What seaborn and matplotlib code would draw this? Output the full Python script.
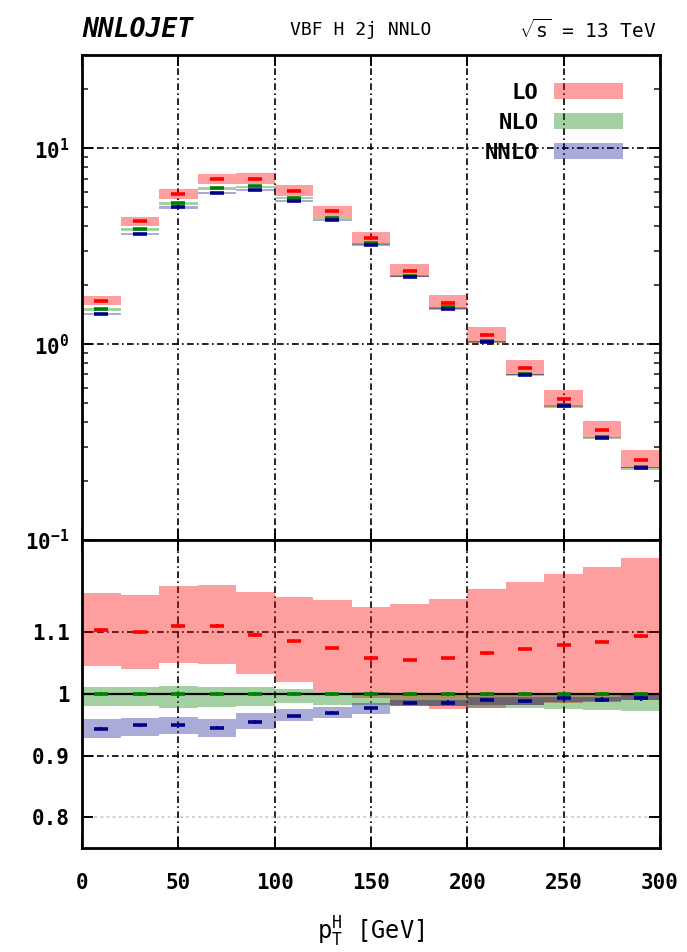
import numpy as np
import matplotlib
matplotlib.use("Agg")
import matplotlib.pyplot as plt
from matplotlib.patches import Patch
from matplotlib.ticker import LogLocator, NullFormatter, FixedLocator
import seaborn as sns

# ---- binning: p_T^H in 20 GeV bins ----
bin_edges = [0, 20, 40, 60, 80, 100, 120, 140, 160, 180, 200, 220, 240, 260, 280, 300]
bin_centers = [10, 30, 50, 70, 90, 110, 130, 150, 170, 190, 210, 230, 250, 270, 290]

# ---- NLO differential cross section (central scale) ----
nlo_central = [1.51, 3.86, 5.26, 6.27, 6.39, 5.58, 4.43, 3.28, 2.24, 1.54,
               1.04, 0.705, 0.487, 0.335, 0.235]

# ---- central predictions normalised to NLO ----
lo_ratio = [1.104, 1.100, 1.111, 1.111, 1.096, 1.086, 1.0745, 1.058, 1.055, 1.058,
            1.066, 1.073, 1.079, 1.085, 1.0935]
nnlo_ratio = [0.944, 0.949, 0.949, 0.9455, 0.955, 0.9646, 0.970, 0.978, 0.986, 0.986,
              0.991, 0.988, 0.993, 0.991, 0.993]

# ---- scale-variation envelopes, normalised to NLO ----
lo_band_lo = [1.046, 1.040, 1.050, 1.048, 1.032, 1.019, 1.005, 0.993, 0.982, 0.976,
              0.978, 0.982, 0.986, 0.988, 0.990]
lo_band_hi = [1.164, 1.161, 1.175, 1.177, 1.165, 1.158, 1.152, 1.141, 1.146, 1.154,
              1.170, 1.182, 1.195, 1.207, 1.221]
nlo_band_lo = [0.981, 0.980, 0.978, 0.979, 0.981, 0.985, 0.983, 0.983, 0.981, 0.981,
               0.978, 0.978, 0.975, 0.974, 0.972]
nlo_band_hi = [1.011, 1.012, 1.0135, 1.012, 1.011, 1.008, 1.0054, 1.003, 1.002, 1.002,
               1.002, 1.002, 1.002, 1.002, 1.002]
nnlo_band_lo = [0.929, 0.932, 0.9345, 0.930, 0.943, 0.956, 0.961, 0.968, 0.980, 0.980,
                0.983, 0.983, 0.987, 0.987, 0.990]
nnlo_band_hi = [0.959, 0.9615, 0.963, 0.959, 0.9685, 0.976, 0.979, 0.985, 0.991, 0.991,
                0.995, 0.995, 0.995, 0.996, 0.999]

# ---- relative statistical (MC) uncertainties ----
lo_stat = [0.003, 0.002, 0.004, 0.003, 0.003, 0.002, 0.002, 0.004, 0.002, 0.002,
           0.002, 0.002, 0.003, 0.002, 0.003]
nlo_stat = [0.003, 0.003, 0.004, 0.003, 0.003, 0.003, 0.003, 0.003, 0.003, 0.003,
            0.003, 0.003, 0.004, 0.003, 0.003]
nnlo_stat = [0.002, 0.002, 0.003, 0.003, 0.003, 0.002, 0.002, 0.003, 0.003, 0.004,
             0.003, 0.003, 0.004, 0.004, 0.004]

orders = ["LO", "NLO", "NNLO"]
band_colors = {"LO": "#ff0000", "NLO": "#008000", "NNLO": "#00008b"}
mark_colors = {"LO": "#ff0000", "NLO": "#008000", "NNLO": "#00008b"}
band_alpha = {"LO": 0.38, "NLO": 0.36, "NNLO": 0.33}

sns.set_theme(style="white")
plt.rcParams["font.family"] = ["DejaVu Sans Mono", "DejaVu Sans"]
plt.rcParams["mathtext.fontset"] = "custom"
plt.rcParams["mathtext.rm"] = "DejaVu Sans Mono"
plt.rcParams["mathtext.bf"] = "DejaVu Sans Mono:bold"
plt.rcParams["text.color"] = "black"
plt.rcParams["axes.labelcolor"] = "black"

x = np.array(bin_centers, dtype=float)
nlo = np.array(nlo_central)
ratio = {"LO": np.array(lo_ratio), "NLO": np.ones_like(nlo), "NNLO": np.array(nnlo_ratio)}
band = {"LO": (np.array(lo_band_lo), np.array(lo_band_hi)),
        "NLO": (np.array(nlo_band_lo), np.array(nlo_band_hi)),
        "NNLO": (np.array(nnlo_band_lo), np.array(nnlo_band_hi))}
stat = {"LO": np.array(lo_stat), "NLO": np.array(nlo_stat), "NNLO": np.array(nnlo_stat)}
width = np.diff(bin_edges)

fig = plt.figure(figsize=(6.87, 9.52), dpi=100)
ax1 = fig.add_axes([0.1194, 0.4328, 0.8413, 0.5095])
ax2 = fig.add_axes([0.1194, 0.1092, 0.8413, 0.3235], sharex=ax1)

gridstyle = dict(color="black", lw=1.2, ls=(0, (4, 2, 1, 2)), zorder=0.5)
for xv in [50, 100, 150, 200, 250]:
    ax1.axvline(xv, **gridstyle)
    ax2.axvline(xv, **gridstyle)
for yv in [1, 10]:
    ax1.axhline(yv, **gridstyle)
for yv in [0.9, 1.1]:
    ax2.axhline(yv, **gridstyle)
ax2.axhline(0.8, color="#c8c8c8", lw=1.1, ls=(0, (2, 2)), zorder=0.5)

# ---- upper panel: absolute distributions ----
for o in orders:
    lo, hi = band[o]
    ax1.bar(x, nlo * (hi - lo), bottom=nlo * lo, width=width,
            color=band_colors[o], alpha=band_alpha[o], linewidth=0, zorder=1)
for o in orders:
    val = nlo * ratio[o]
    ax1.errorbar(x, val, yerr=val * stat[o], fmt="_", ms=10, mew=2.6,
                 color=mark_colors[o], elinewidth=1.6, capsize=0, zorder=3)

# ---- lower panel: ratio to NLO ----
for o in orders:
    lo, hi = band[o]
    ax2.bar(x, hi - lo, bottom=lo, width=width,
            color=band_colors[o], alpha=band_alpha[o], linewidth=0, zorder=1)
ax2.axhline(1.0, color="black", lw=1.6, zorder=2)
for o in orders:
    ax2.errorbar(x, ratio[o], yerr=ratio[o] * stat[o], fmt="_", ms=10, mew=2.6,
                 color=mark_colors[o], elinewidth=1.6, capsize=0, zorder=3)

# ---- axes styling ----
ax1.set_yscale("log")
ax1.set_ylim(0.1, 30)
ax1.set_xlim(0, 300)
ax2.set_ylim(0.75, 1.25)

ax1.yaxis.set_major_locator(FixedLocator([0.1, 1, 10]))
ax1.set_yticklabels([r"$\mathbf{10^{-1}}$", r"$\mathbf{10^{0}}$", r"$\mathbf{10^{1}}$"])
ax1.yaxis.set_minor_locator(LogLocator(base=10, subs=np.arange(2, 10)))
ax1.yaxis.set_minor_formatter(NullFormatter())
ax2.set_yticks([0.8, 0.9, 1.0, 1.1])
ax2.set_yticklabels(["0.8", "0.9", "1", "1.1"])
ax2.set_xticks([0, 50, 100, 150, 200, 250, 300])
plt.setp(ax1.get_xticklabels(), visible=False)

for ax in (ax1, ax2):
    ax.tick_params(axis="both", which="major", direction="in", length=8, width=1.4,
                   top=True, right=True, bottom=True, left=True, labelsize=15,
                   colors="black")
    ax.tick_params(axis="both", which="minor", direction="in", length=4.5, width=1.2,
                   top=False, right=True, left=True, bottom=False)
    for lab in ax.get_xticklabels() + ax.get_yticklabels():
        lab.set_fontweight("bold")
    for s in ax.spines.values():
        s.set_color("black")
        s.set_linewidth(2.0)
    ax.set_facecolor("white")
    ax.grid(False)
ax1.tick_params(axis="y", which="major", pad=9)
ax2.tick_params(axis="y", which="major", pad=9)
ax2.tick_params(axis="x", which="major", pad=18)

ax2.set_xlabel(r"p$_{\rm T}^{\rm H}$ [GeV]", fontsize=17, labelpad=16, color="black")

# ---- legend ----
handles = [Patch(facecolor=band_colors[o], alpha=band_alpha[o], linewidth=0) for o in orders]
leg = ax1.legend(handles, orders, loc="upper right", bbox_to_anchor=(0.955, 0.965),
                 markerfirst=False, frameon=False, handlelength=3.1,
                 handleheight=0.75, labelspacing=0.45, handletextpad=0.7,
                 borderpad=0.0, prop={"weight": "bold", "size": 16})
for t in leg.get_texts():
    t.set_color("black")

# ---- header ----
fig.text(0.1194, 0.968, "NNLOJET", fontsize=19, fontweight="bold", fontstyle="italic",
         ha="left", va="center")
fig.text(0.525, 0.968, "VBF H 2j NNLO", fontsize=13, ha="center", va="center")
fig.text(0.955, 0.968, r"$\sqrt{\rm s}$ = 13 TeV", fontsize=14, ha="right", va="center")

fig.savefig("out.png", dpi=100, facecolor="white")
